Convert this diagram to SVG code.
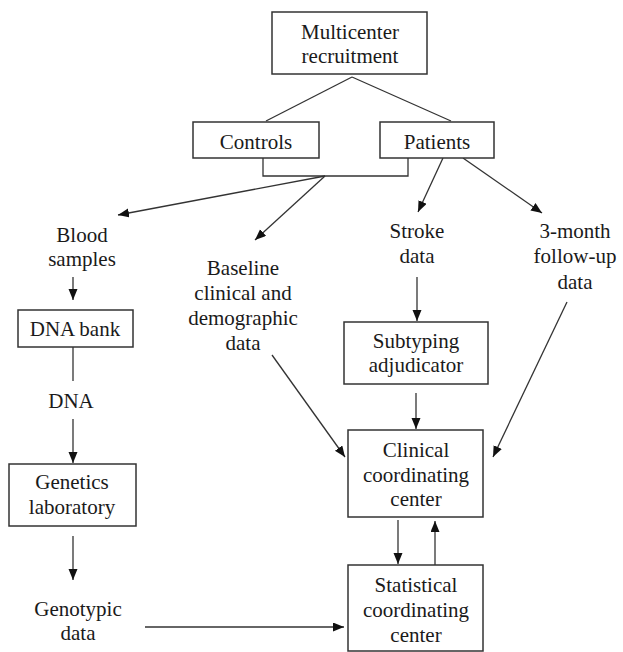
<svg xmlns="http://www.w3.org/2000/svg" width="623" height="652" viewBox="0 0 623 652">
<style>
text{font-size:21px;fill:#1a1a1a;text-anchor:middle}
.box{fill:#fff;stroke:#333;stroke-width:1.5}
.ln{fill:none;stroke:#333;stroke-width:1.3}
</style>
<defs>
<marker id="ah" markerUnits="userSpaceOnUse" markerWidth="12" markerHeight="10" refX="11" refY="4.5" orient="auto">
<path d="M0,0 L11,4.5 L0,9 z" fill="#111"/>
</marker>
</defs>
<rect width="623" height="652" fill="#fff"/>
<g id="connectors">
<line class="ln" x1="352" y1="77" x2="266" y2="121"/>
<line class="ln" x1="352" y1="77" x2="451" y2="121"/>
<polyline class="ln" points="263,158 263,176 408,176 408,158"/>
<line class="ln" x1="325" y1="176" x2="118" y2="215" marker-end="url(#ah)"/>
<line class="ln" x1="325" y1="176" x2="255" y2="240" marker-end="url(#ah)"/>
<line class="ln" x1="443" y1="158" x2="418" y2="212" marker-end="url(#ah)"/>
<line class="ln" x1="463" y1="158" x2="542" y2="213" marker-end="url(#ah)"/>
<line class="ln" x1="73" y1="277" x2="73" y2="300" marker-end="url(#ah)"/>
<line class="ln" x1="73" y1="347" x2="73" y2="381"/>
<line class="ln" x1="73" y1="419" x2="73" y2="463" marker-end="url(#ah)"/>
<line class="ln" x1="73" y1="536" x2="73" y2="580" marker-end="url(#ah)"/>
<line class="ln" x1="145" y1="627" x2="344" y2="627" marker-end="url(#ah)"/>
<line class="ln" x1="417" y1="277" x2="417" y2="321" marker-end="url(#ah)"/>
<line class="ln" x1="416" y1="393" x2="416" y2="429" marker-end="url(#ah)"/>
<line class="ln" x1="272" y1="355" x2="345" y2="457" marker-end="url(#ah)"/>
<line class="ln" x1="567" y1="302" x2="493" y2="457" marker-end="url(#ah)"/>
<line class="ln" x1="398" y1="520" x2="398" y2="564" marker-end="url(#ah)"/>
<line class="ln" x1="435" y1="565" x2="435" y2="521" marker-end="url(#ah)"/>
</g>
<g font-family="Liberation Serif, serif">
<g id="multicenter">
<rect class="box" x="272" y="12" width="155" height="62"/>
<text x="350" y="39">Multicenter</text>
<text x="350" y="63">recruitment</text>
</g>
<g id="controls">
<rect class="box" x="193" y="122" width="126" height="36"/>
<text x="256" y="149">Controls</text>
</g>
<g id="patients">
<rect class="box" x="380" y="122" width="114" height="36"/>
<text x="437" y="149">Patients</text>
</g>
<g id="blood">
<text x="82" y="242">Blood</text>
<text x="82" y="266">samples</text>
</g>
<g id="baseline">
<text x="243" y="275">Baseline</text>
<text x="243" y="300">clinical and</text>
<text x="243" y="325">demographic</text>
<text x="243" y="350">data</text>
</g>
<g id="stroke">
<text x="417" y="238">Stroke</text>
<text x="417" y="263">data</text>
</g>
<g id="followup">
<text x="575" y="238">3-month</text>
<text x="575" y="263">follow-up</text>
<text x="575" y="289">data</text>
</g>
<g id="dnabank">
<rect class="box" x="18" y="310" width="115" height="37"/>
<text x="75" y="336">DNA bank</text>
</g>
<g id="dna">
<text x="71" y="408">DNA</text>
</g>
<g id="genetics">
<rect class="box" x="9" y="464" width="127" height="62"/>
<text x="72" y="489">Genetics</text>
<text x="72" y="514">laboratory</text>
</g>
<g id="genotypic">
<text x="78" y="616">Genotypic</text>
<text x="78" y="640">data</text>
</g>
<g id="subtyping">
<rect class="box" x="344" y="322" width="144" height="62"/>
<text x="416" y="348">Subtyping</text>
<text x="416" y="372">adjudicator</text>
</g>
<g id="clinical">
<rect class="box" x="348" y="430" width="135" height="87"/>
<text x="416" y="457">Clinical</text>
<text x="416" y="482">coordinating</text>
<text x="416" y="506">center</text>
</g>
<g id="statistical">
<rect class="box" x="348" y="565" width="135" height="86"/>
<text x="416" y="592">Statistical</text>
<text x="416" y="617">coordinating</text>
<text x="416" y="642">center</text>
</g>
</g>
</svg>
